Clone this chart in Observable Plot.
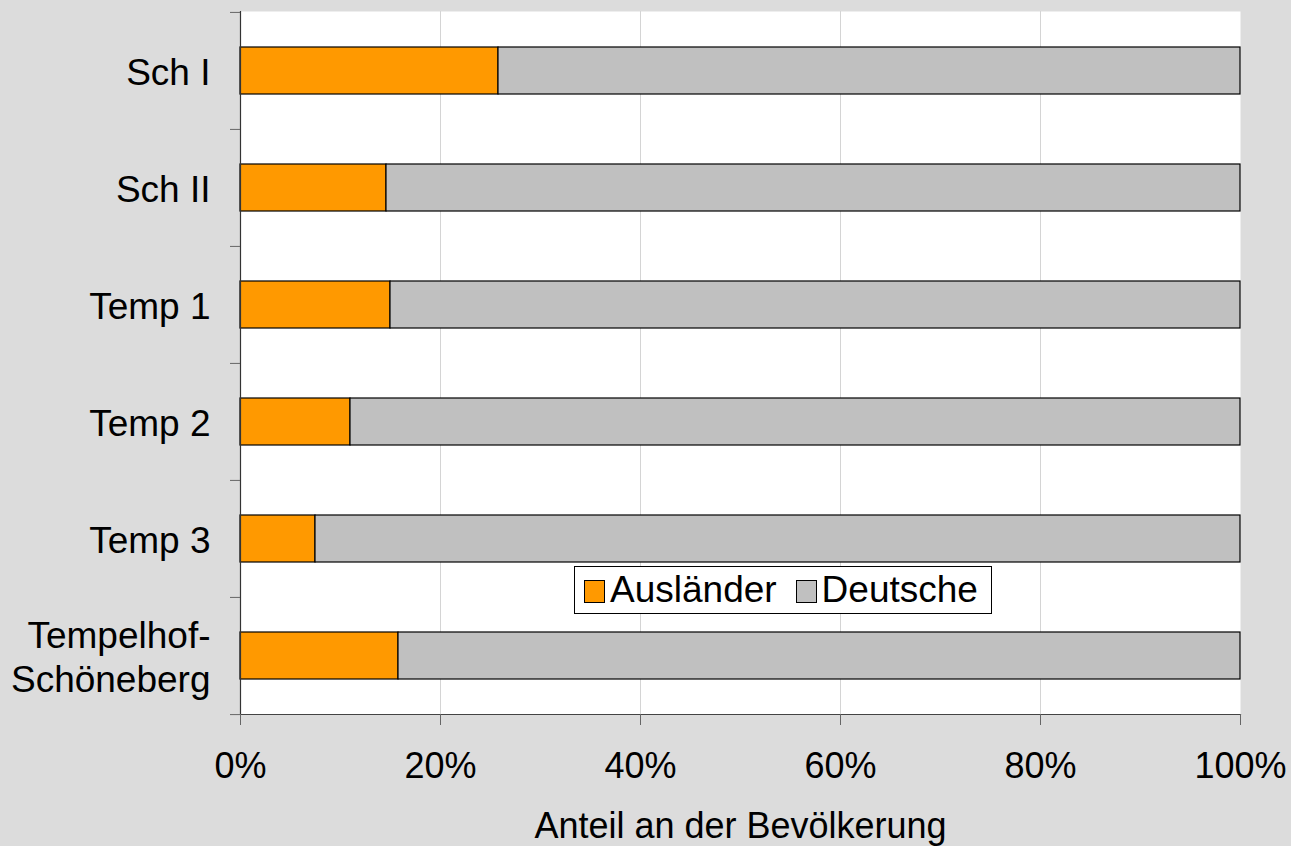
<!DOCTYPE html>
<html>
<head>
<meta charset="utf-8">
<script src="https://cdn.jsdelivr.net/npm/d3@7"></script>
<script src="https://cdn.jsdelivr.net/npm/@observablehq/plot@0.6"></script>
<style>
  html, body { margin: 0; padding: 0; background: #dcdcdc; }
  #wrap { position: relative; width: 1291px; height: 846px; font-family: "Liberation Sans", Arial, sans-serif; }
  #legend { position: absolute; left: 574px; top: 566px; width: 418px; height: 48px; box-sizing: border-box;
    border: 1px solid #000; background: #fff; display: flex; align-items: center; font-size: 37px; color: #000; }
  .sw { display: inline-block; width: 19px; height: 21px; border: 1px solid #000; margin: 2px 5px 0 9px; }
  .sw2 { margin-left: 19px; }
</style>
</head>
<body>
<div id="wrap"></div>
<script>
const categories = ["Sch I", "Sch II", "Temp 1", "Temp 2", "Temp 3", "Tempelhof-\nSchöneberg"];
const auslaender = [25.8, 14.6, 15.0, 11.0, 7.5, 15.8];
const deutsche = [74.2, 85.4, 85.0, 89.0, 92.5, 84.2];
const seriesNames = ["Ausländer", "Deutsche"];
const seriesColors = ["#ff9900", "#c0c0c0"];
const xTicks = [0, 20, 40, 60, 80, 100];

const rows = [];
categories.forEach((c, i) => {
  rows.push({cat: c, series: seriesNames[0], value: auslaender[i]});
  rows.push({cat: c, series: seriesNames[1], value: deutsche[i]});
});

const halfStep = (714 - 11) / 6 / 2;

const chart = Plot.plot({
  width: 1291,
  height: 846,
  marginLeft: 240,
  marginRight: 51,
  marginTop: 11,
  marginBottom: 132,
  style: {background: "transparent", fontFamily: "Liberation Sans, Arial, sans-serif", fontSize: "37px", color: "#000"},
  x: {domain: [0, 100]},
  y: {domain: categories, paddingInner: 0.6, paddingOuter: 0.3},
  color: {domain: seriesNames, range: seriesColors},
  marks: [
    Plot.frame({fill: "white", stroke: null}),
    Plot.gridX({ticks: [20, 40, 60, 80], stroke: "#d4d4d4", strokeOpacity: 1, strokeWidth: 1}),
    Plot.barX(rows, Plot.stackX({y: "cat", x: "value", fill: "series", order: seriesNames, stroke: "#000", strokeWidth: 1.2})),
    Plot.ruleX([0], {stroke: "#333", strokeWidth: 1.2}),
    Plot.frame({anchor: "bottom", stroke: "#444", strokeWidth: 1.2}),
    Plot.axisX({ticks: xTicks, tickFormat: d => d + "%", tickSize: 11, tickPadding: 27, stroke: "#666", fontSize: 36,
      label: "Anteil an der Bevölkerung", labelAnchor: "center", labelArrow: "none", labelOffset: 123}),
    Plot.axisY({tickSize: 0, tickPadding: 30, fontSize: 37, lineHeight: 1.2, label: null}),
    Plot.axisY({tickSize: 10, tickFormat: () => "", dy: -halfStep, stroke: "#666", label: null}),
    Plot.axisY({ticks: [categories[categories.length - 1]], tickSize: 10, tickFormat: () => "", dy: halfStep, stroke: "#666", label: null})
  ]
});
const wrap = document.getElementById("wrap");
wrap.appendChild(chart);

const legend = document.createElement("div");
legend.id = "legend";
seriesNames.forEach((n, i) => {
  const sw = document.createElement("span");
  sw.className = i === 0 ? "sw" : "sw sw2";
  sw.style.background = seriesColors[i];
  legend.appendChild(sw);
  const t = document.createElement("span");
  t.textContent = n;
  legend.appendChild(t);
});
wrap.appendChild(legend);
</script>
</body>
</html>
